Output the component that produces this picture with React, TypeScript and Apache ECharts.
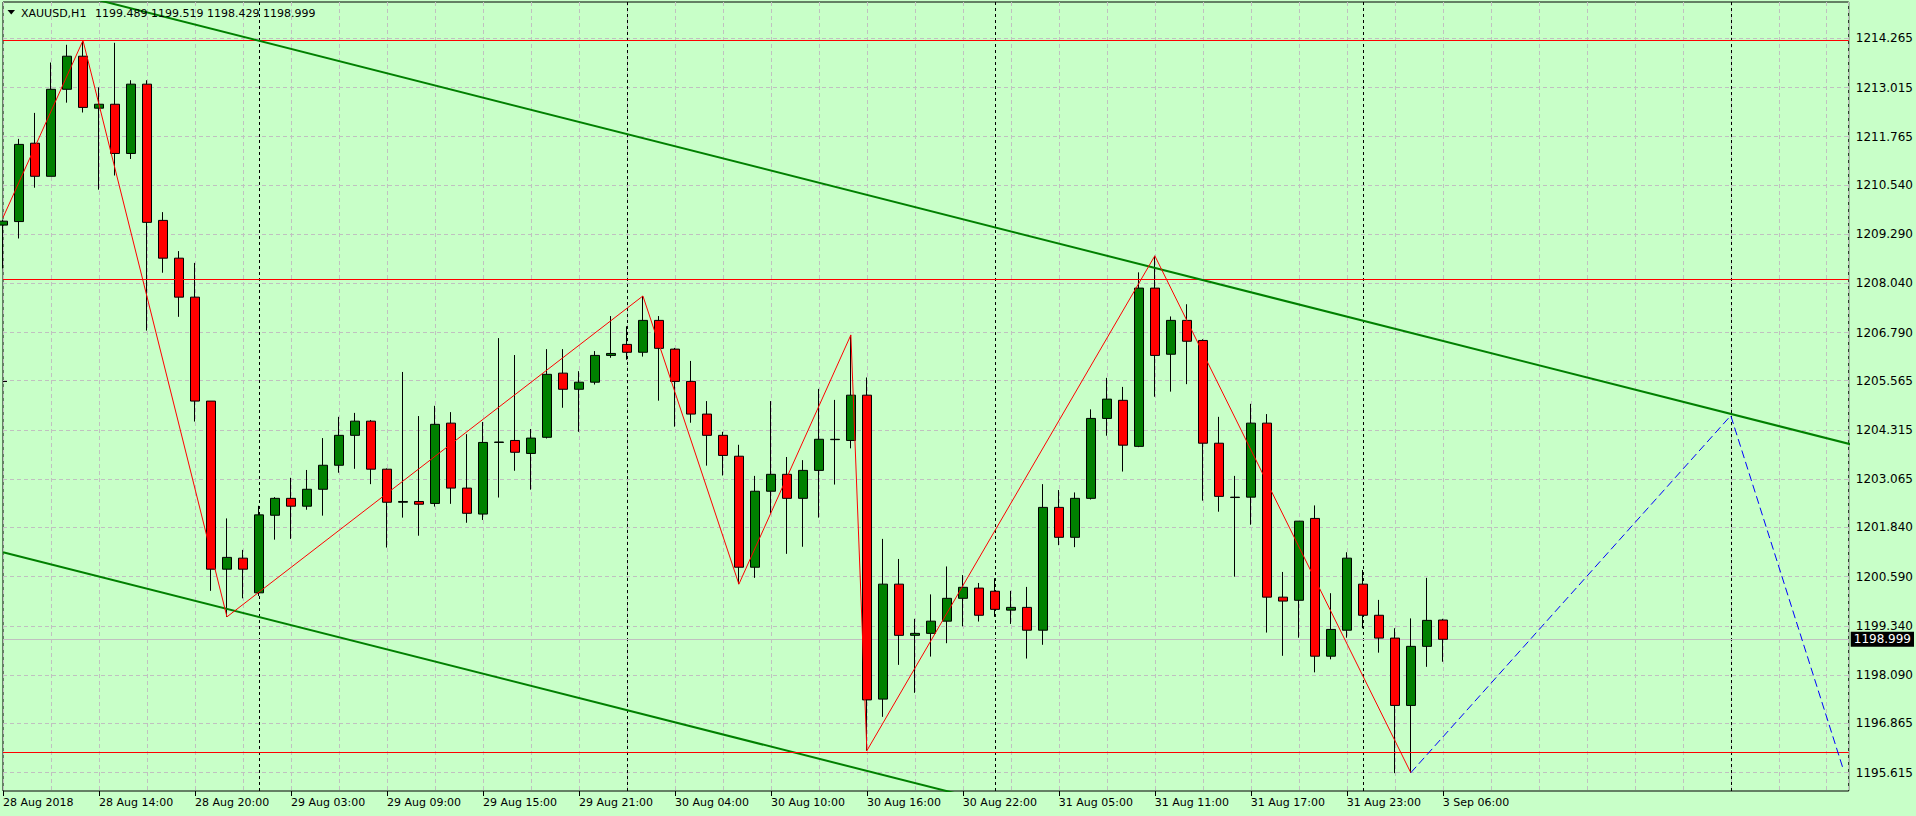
import React, { useEffect, useRef } from 'react';
import * as echarts from 'echarts';

// ---- data (bar index 0 = 28 Aug 2018 08:00, H1) ----
const opens = [
  1209.52, 1209.61, 1211.60, 1210.76, 1212.97, 1213.81, 1212.49, 1212.59, 1211.34, 1213.10,
  1209.64, 1208.68, 1207.69, 1205.05, 1200.78, 1201.06, 1200.18, 1202.15, 1202.58, 1202.38,
  1202.81, 1203.42, 1204.18, 1204.54, 1203.32, 1202.48, 1202.50, 1202.45, 1204.49, 1202.84,
  1202.18, 1204.00, 1204.05, 1203.72, 1204.13, 1205.76, 1205.35, 1205.53, 1206.21, 1206.49,
  1206.29, 1207.10, 1206.37, 1205.55, 1204.72, 1204.18, 1203.65, 1200.83, 1202.76, 1203.19,
  1202.58, 1203.29, 1204.08, 1204.05, 1205.20, 1197.48, 1200.40, 1199.10, 1199.15, 1199.46,
  1200.04, 1200.30, 1200.22, 1199.74, 1199.81, 1199.23, 1202.35, 1201.59, 1202.58, 1204.61,
  1205.07, 1203.90, 1207.92, 1206.24, 1207.10, 1206.59, 1203.98, 1202.61, 1202.61, 1204.49,
  1200.07, 1199.99, 1202.07, 1198.57, 1199.23, 1200.40, 1199.61, 1199.03, 1197.32, 1198.82,
  1199.489,
];
const highs = [
  1209.65, 1211.71, 1212.37, 1213.65, 1214.10, 1214.21, 1213.02, 1214.15, 1213.20, 1213.20,
  1209.85, 1208.86, 1208.56, 1205.05, 1202.07, 1201.27, 1202.39, 1202.61, 1203.10, 1203.30,
  1204.11, 1204.65, 1204.75, 1204.57, 1203.34, 1205.79, 1204.67, 1204.93, 1204.77, 1204.21,
  1204.52, 1206.65, 1206.22, 1204.34, 1206.37, 1206.37, 1205.81, 1206.32, 1207.21, 1206.95,
  1207.72, 1207.21, 1206.40, 1206.07, 1205.05, 1204.27, 1203.94, 1203.15, 1205.05, 1203.63,
  1203.55, 1205.36, 1205.08, 1206.73, 1205.65, 1201.55, 1201.04, 1199.52, 1200.14, 1200.85,
  1200.63, 1200.43, 1200.55, 1200.23, 1200.33, 1202.94, 1202.79, 1202.73, 1204.84, 1205.64,
  1205.41, 1208.32, 1208.74, 1207.20, 1207.51, 1206.62, 1204.65, 1203.15, 1204.98, 1204.72,
  1200.71, 1202.00, 1202.40, 1200.17, 1201.21, 1200.76, 1200.00, 1199.28, 1199.53, 1200.56,
  1199.519,
];
const lows = [
  1208.42, 1209.18, 1210.47, 1210.76, 1212.63, 1212.38, 1210.42, 1210.78, 1211.20, 1206.84,
  1208.31, 1207.19, 1204.53, 1200.23, 1199.57, 1200.04, 1200.10, 1201.53, 1201.55, 1202.29,
  1202.14, 1203.23, 1203.33, 1202.94, 1201.33, 1202.09, 1201.63, 1202.37, 1202.44, 1201.96,
  1202.03, 1202.60, 1203.28, 1202.80, 1204.10, 1204.88, 1204.27, 1205.47, 1206.15, 1206.10,
  1206.18, 1205.06, 1204.40, 1204.50, 1203.41, 1203.16, 1200.40, 1200.56, 1202.20, 1201.17,
  1201.35, 1202.09, 1202.93, 1203.85, 1196.17, 1197.03, 1198.35, 1197.64, 1198.56, 1198.90,
  1199.33, 1199.45, 1199.57, 1199.39, 1198.51, 1198.86, 1201.39, 1201.34, 1202.55, 1204.17,
  1203.26, 1203.88, 1205.16, 1205.29, 1205.48, 1202.52, 1202.24, 1200.59, 1201.91, 1199.17,
  1198.58, 1199.04, 1198.16, 1198.49, 1199.04, 1199.28, 1198.66, 1195.60, 1195.61, 1198.30,
  1198.429,
];
const closes = [
  1209.62, 1211.57, 1210.76, 1212.97, 1213.81, 1212.51, 1212.59, 1211.34, 1213.10, 1209.59,
  1208.68, 1207.69, 1205.05, 1200.78, 1201.08, 1200.78, 1202.16, 1202.58, 1202.38, 1202.81,
  1203.42, 1204.18, 1204.54, 1203.32, 1202.48, 1202.50, 1202.43, 1204.46, 1202.84, 1202.20,
  1204.00, 1204.01, 1203.75, 1204.11, 1205.73, 1205.35, 1205.53, 1206.21, 1206.26, 1206.29,
  1207.10, 1206.39, 1205.55, 1204.72, 1204.18, 1203.67, 1200.83, 1202.76, 1203.19, 1202.58,
  1203.29, 1204.08, 1204.07, 1205.20, 1197.46, 1200.40, 1199.10, 1199.15, 1199.46, 1200.04,
  1200.32, 1199.61, 1199.76, 1199.81, 1199.23, 1202.35, 1201.59, 1202.58, 1204.61, 1205.10,
  1203.93, 1207.92, 1206.21, 1207.10, 1206.57, 1203.98, 1202.63, 1202.60, 1204.49, 1200.07,
  1199.97, 1202.00, 1198.57, 1199.25, 1201.06, 1199.61, 1199.03, 1197.32, 1198.82, 1199.48,
  1198.999,
];

const timeLabels = [
  '28 Aug 2018', '28 Aug 14:00', '28 Aug 20:00', '29 Aug 03:00', '29 Aug 09:00', '29 Aug 15:00',
  '29 Aug 21:00', '30 Aug 04:00', '30 Aug 10:00', '30 Aug 16:00', '30 Aug 22:00', '31 Aug 05:00',
  '31 Aug 11:00', '31 Aug 17:00', '31 Aug 23:00', '3 Sep 06:00',
];
const labelStep = 6;

const priceTicks = [
  '1214.265', '1213.015', '1211.765', '1210.540', '1209.290', '1208.040', '1206.790', '1205.565',
  '1204.315', '1203.065', '1201.840', '1200.590', '1199.340', '1198.090', '1196.865', '1195.615',
];

// zigzag indicator vertices [bar index, price]
const zigzag = [
  [0, 1209.71], [5, 1214.21], [14, 1199.57], [40, 1207.72], [46, 1200.40],
  [53, 1206.73], [54, 1196.17], [72, 1208.74], [88, 1195.61],
];
// blue dashed projection
const projection = [[88, 1195.61], [108, 1204.68], [115, 1195.74]];
// channel lines
const upperTrend = [[0, 1215.85], [116, 1203.90]];
const lowerTrend = [[0, 1201.21], [60, 1195.04]];
// horizontal red levels
const levels = [1214.21, 1208.14, 1196.14];
// day separators (bar index)
const separators = [16, 39, 62, 85, 108];

const symbolName = 'XAUUSD,H1';
const lastIndex = opens.length - 1;
const lastPrice = closes[lastIndex];

const X_MAX = 115.375;
const Y_MIN = 1195.146;
const Y_MAX = 1215.187;

const FONT = '"DejaVu Sans", Verdana, sans-serif';

export default function App() {
  const ref = useRef<HTMLDivElement>(null);

  useEffect(() => {
    if (!ref.current) return;
    const chart = echarts.init(ref.current, undefined, { renderer: 'svg' });

    const candles = opens.map((o, i) => [i, o, closes[i], lows[i], highs[i]]);
    const labelIdx = timeLabels.map((_, i) => i * labelStep);
    const tickVals = priceTicks.map((s) => parseFloat(s));
    const ohlcText = [opens[lastIndex], highs[lastIndex], lows[lastIndex], closes[lastIndex]]
      .map((v) => v.toFixed(3))
      .join(' ');

    const gridLineStyle = { color: '#c0c0c0', type: [4, 3], width: 1 };

    const option: any = {
      animation: false,
      backgroundColor: '#c8ffc8',
      grid: {
        left: 3,
        right: 67,
        top: 2,
        bottom: 25,
        show: true,
        borderColor: '#000',
        borderWidth: 1,
        backgroundColor: 'transparent',
      },
      xAxis: [
        {
          type: 'value',
          min: 0,
          max: X_MAX,
          interval: 3,
          position: 'bottom',
          axisLine: { show: false },
          axisTick: { show: false },
          axisLabel: { show: false },
          splitLine: { show: true, lineStyle: gridLineStyle },
        },
        {
          type: 'value',
          min: 0,
          max: X_MAX,
          interval: labelStep,
          position: 'bottom',
          axisLine: { show: false },
          splitLine: { show: false },
          axisTick: {
            show: true,
            customValues: labelIdx,
            length: 5,
            lineStyle: { color: '#000' },
          },
          axisLabel: {
            customValues: labelIdx,
            formatter: (v: number) => timeLabels[Math.round(v / labelStep)] ?? '',
            align: 'left',
            margin: 6,
            color: '#000',
            fontSize: 11,
            fontFamily: FONT,
          },
        },
      ],
      yAxis: {
        type: 'value',
        position: 'right',
        min: Y_MIN,
        max: Y_MAX,
        axisLine: { show: false },
        splitLine: { show: false },
        axisTick: {
          show: true,
          customValues: tickVals,
          length: 4,
          lineStyle: { color: '#000' },
        },
        axisLabel: {
          customValues: tickVals,
          formatter: (v: number) => {
            let best = 0;
            for (let i = 1; i < tickVals.length; i++) {
              if (Math.abs(tickVals[i] - v) < Math.abs(tickVals[best] - v)) best = i;
            }
            return priceTicks[best];
          },
          margin: 7,
          color: '#000',
          fontSize: 12,
          fontFamily: FONT,
        },
      },
      graphic: [
        {
          type: 'polygon',
          shape: { points: [[7.5, 10], [15, 10], [11.25, 14.5]] },
          style: { fill: '#000' },
          z: 10,
        },
        {
          type: 'text',
          x: 21,
          y: 13,
          style: { text: symbolName, fill: '#000', fontSize: 11, fontFamily: FONT, verticalAlign: 'middle' },
          z: 10,
        },
        {
          type: 'text',
          x: 95,
          y: 13,
          style: { text: ohlcText, fill: '#000', fontSize: 11, fontFamily: FONT, verticalAlign: 'middle' },
          z: 10,
        },
      ],
      series: [
        {
          name: 'lower',
          type: 'line',
          data: lowerTrend,
          symbol: 'none',
          silent: true,
          z: 3,
          lineStyle: { color: '#008000', width: 2 },
          markLine: {
            silent: true,
            z: 1,
            symbol: ['none', 'none'],
            label: { show: false },
            data: [
              ...tickVals.map((v) => ({ yAxis: v, lineStyle: gridLineStyle })),
              ...separators.map((s) => ({ xAxis: s, lineStyle: { color: '#000', type: [3, 3], width: 1 } })),
            ],
          },
        },
        {
          name: 'price',
          type: 'candlestick',
          data: candles,
          barWidth: 9,
          clip: true,
          z: 2,
          itemStyle: {
            color: '#008000',
            color0: '#ff0000',
            borderColor: '#000',
            borderColor0: '#000',
            borderColorDoji: '#000',
            borderWidth: 1,
          },
          markLine: {
            silent: true,
            z: 1,
            symbol: ['none', 'none'],
            lineStyle: { color: '#c0c0c0', type: 'solid', width: 1 },
            label: {
              show: true,
              position: 'end',
              distance: 2,
              formatter: () => lastPrice.toFixed(3),
              color: '#fff',
              backgroundColor: '#000',
              padding: [2, 3, 1, 3],
              fontSize: 12,
              fontFamily: FONT,
            },
            data: [{ yAxis: lastPrice }],
          },
        },
        {
          name: 'upper',
          type: 'line',
          data: upperTrend,
          symbol: 'none',
          silent: true,
          z: 4,
          lineStyle: { color: '#008000', width: 2 },
          markLine: {
            silent: true,
            z: 4,
            symbol: ['none', 'none'],
            label: { show: false },
            lineStyle: { color: '#ff0000', type: 'solid', width: 1 },
            data: levels.map((v) => ({ yAxis: v })),
          },
        },
        {
          name: 'zigzag',
          type: 'line',
          data: zigzag,
          symbol: 'none',
          silent: true,
          z: 5,
          lineStyle: { color: '#ff0000', width: 1 },
        },
        {
          name: 'projection',
          type: 'line',
          data: projection,
          symbol: 'none',
          silent: true,
          z: 5,
          lineStyle: { color: '#0000ff', width: 1, type: [8, 4] },
        },
      ],
    };

    chart.setOption(option);
    return () => chart.dispose();
  }, []);

  return (
    <div
      ref={ref}
      style={{ position: 'fixed', left: 0, top: 0, width: 1916, height: 816 }}
    />
  );
}
